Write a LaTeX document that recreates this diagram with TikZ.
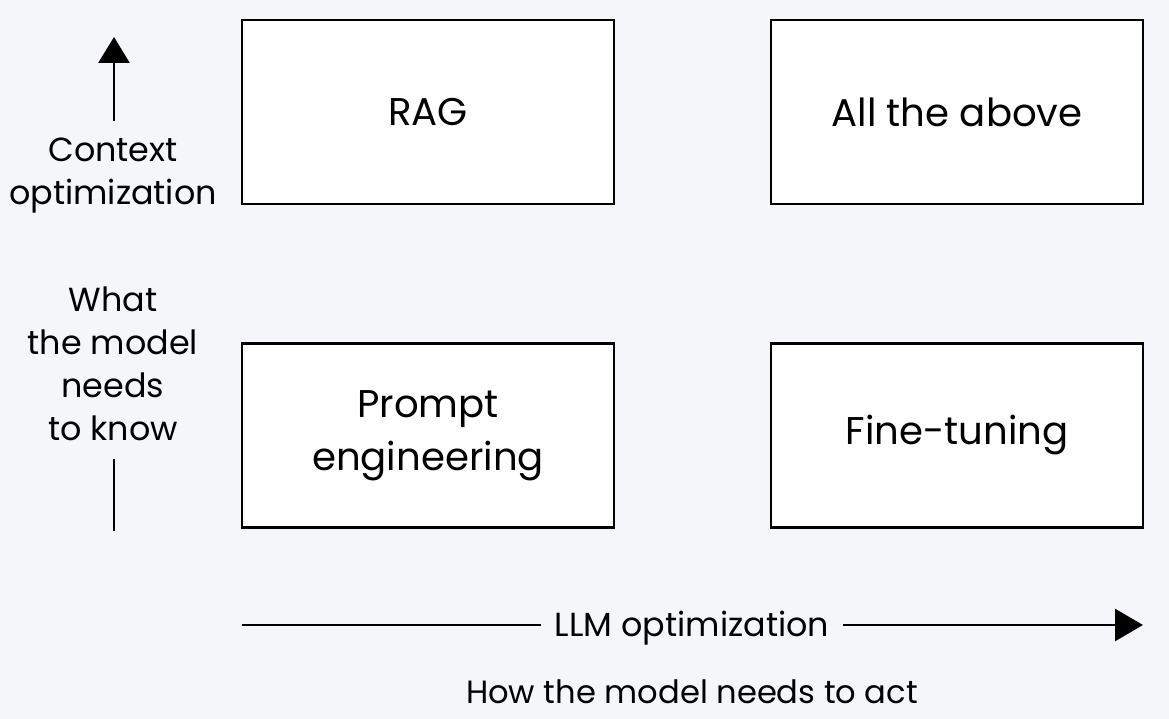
\documentclass[tikz,border=0pt]{standalone}
\usepackage{fontspec}
\setmainfont{Poppins}
\usetikzlibrary{arrows.meta,positioning}
\definecolor{bgcol}{HTML}{F4F6F9}

\tikzset{
  box/.style={draw=black, line width=1.6pt, fill=white, minimum width=7.44cm, minimum height=3.68cm, inner sep=0pt, align=center, font=\fontsize{22}{30}\selectfont},
  sidelabel/.style={align=center, inner sep=0pt, font=\fontsize{19}{24.5}\selectfont},
  axis/.style={line width=1.6pt},
}

\begin{document}
\begin{tikzpicture}[x=0.02cm, y=-0.02cm]
\fill [bgcol] (0,0) rectangle (1169,719);
\useasboundingbox (0,0) rectangle (1169,719);
% quadrants
\node[box] (rag) at (428,112) {RAG};
\node[box] (all) at (957,112) {All the above};
\node[box] (prompt) at (428,435.5) {Prompt\\engineering};
\node[box] (fine) at (957,435.5) {Fine-tuning};
% vertical axis
\coordinate (uptip) at (114,37);
\coordinate (upbase) at (114,121);
\coordinate (vtop) at (114,459);
\coordinate (vbot) at (114,531);
\draw [axis, -{Triangle[width=0.62cm, length=0.52cm]}] (upbase) -- (uptip);
\draw [axis] (vtop) -- (vbot);
\node[sidelabel] (ctx) at (113,176) {Context\\optimization};
\node[sidelabel] (know) at (113,364) {What\\the model\\needs\\to know};
% horizontal axis
\coordinate (hleft) at (242,625);
\coordinate (hright) at (1143,625);
\draw [axis, -{Triangle[width=0.64cm, length=0.56cm]}] (hleft) -- (hright);
\node[sidelabel, fill=bgcol, inner xsep=8pt, inner ysep=4pt] (llm) at (692,628) {LLM optimization};
\node[sidelabel, font=\fontsize{18.3}{24}\selectfont] (act) at (692,692) {How the model needs to act};
\end{tikzpicture}
\end{document}
